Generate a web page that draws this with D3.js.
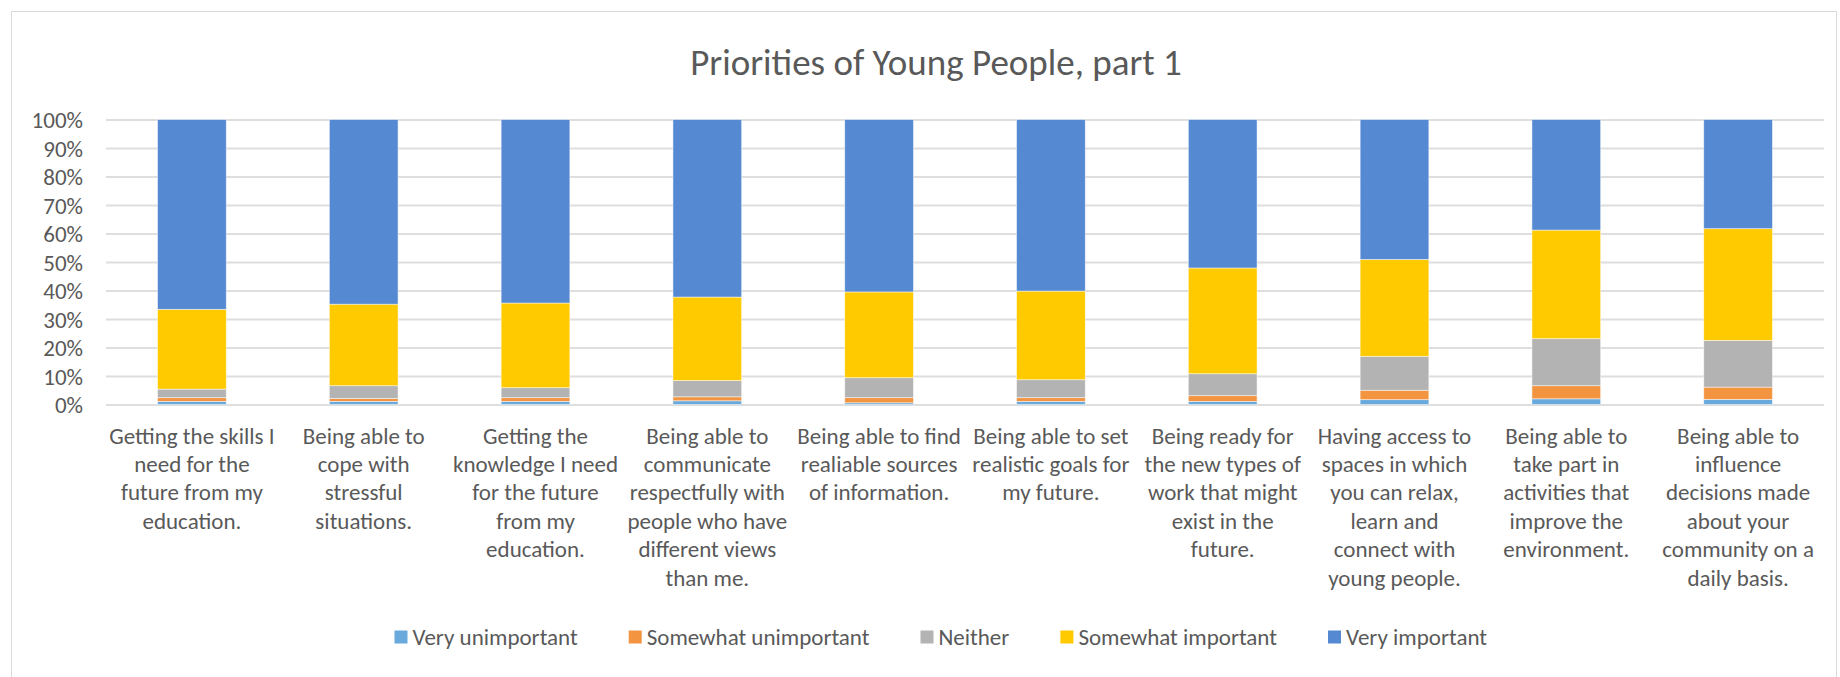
<!DOCTYPE html>
<html>
<head>
<meta charset="utf-8">
<script src="https://cdn.jsdelivr.net/npm/d3@7"></script>
<style>
  html, body { margin: 0; padding: 0; background: #fff; }
  svg { display: block; }
  text { font-family: Carlito, Calibri, Lato, sans-serif; fill: #595959; }
</style>
</head>
<body>
<svg id="chart" width="1840" height="677"></svg>
<script>
// Survey categories (line breaks mark how each axis label wraps)
const categories = [
  "Getting the skills I\nneed for the\nfuture from my\neducation.",
  "Being able to\ncope with\nstressful\nsituations.",
  "Getting the\nknowledge I need\nfor the future\nfrom my\neducation.",
  "Being able to\ncommunicate\nrespectfully with\npeople who have\ndifferent views\nthan me.",
  "Being able to find\nrealiable sources\nof information.",
  "Being able to set\nrealistic goals for\nmy future.",
  "Being ready for\nthe new types of\nwork that might\nexist in the\nfuture.",
  "Having access to\nspaces in which\nyou can relax,\nlearn and\nconnect with\nyoung people.",
  "Being able to\ntake part in\nactivities that\nimprove the\nenvironment.",
  "Being able to\ninfluence\ndecisions made\nabout your\ncommunity on a\ndaily basis."
];

// Share of responses (%) per answer
const seriesNames = ["Very unimportant", "Somewhat unimportant", "Neither", "Somewhat important", "Very important"];
const veryUnimportant     = [1.1, 1.1, 1.1, 1.3, 0.6, 1.1, 1.1, 1.7, 2.0, 1.8];
const somewhatUnimportant = [1.3, 1.0, 1.3, 1.4, 1.8, 1.3, 2.0, 3.3, 4.6, 4.3];
const neither             = [3.0, 4.5, 3.5, 5.7, 7.0, 6.3, 7.7, 11.9, 16.5, 16.4];
const somewhatImportant   = [28.0, 28.6, 29.7, 29.3, 30.1, 31.1, 37.1, 34.0, 38.1, 39.2];
const veryImportant       = [66.6, 64.8, 64.4, 62.3, 60.5, 60.2, 52.1, 49.1, 38.8, 38.3];

const yTicks = [0, 0.1, 0.2, 0.3, 0.4, 0.5, 0.6, 0.7, 0.8, 0.9, 1.0];
const colors = ["#69A9DB", "#F39440", "#B3B3B3", "#FFCA00", "#5589D1"];
const title = "Priorities of Young People, part 1";

const seriesValues = [veryUnimportant, somewhatUnimportant, neither, somewhatImportant, veryImportant];
const rows = categories.map((c, i) => {
  const r = { category: c };
  seriesNames.forEach((s, k) => { r[s] = seriesValues[k][i]; });
  return r;
});

const svg = d3.select("#chart");
const FONT = 23;

// chart area border (runs past the bottom edge)
svg.append("rect")
  .attr("x", 11.5).attr("y", 11.5)
  .attr("width", 1825).attr("height", 700)
  .attr("fill", "none").attr("stroke", "#d9d9d9").attr("stroke-width", 1);

const plot = { left: 106, right: 1824, top: 119.5, bottom: 404.5 };

const x = d3.scaleBand()
  .domain(categories)
  .range([plot.left, plot.right])
  .paddingInner(0.6)
  .paddingOuter(0.3);

const y = d3.scaleLinear().domain([0, 1]).range([plot.bottom, plot.top]);

// title
svg.append("text")
  .attr("x", 936).attr("y", 75)
  .attr("text-anchor", "middle")
  .style("font-size", "37px")
  .text(title);

// gridlines and percentage labels
const yAxis = d3.axisLeft(y)
  .tickValues(yTicks)
  .tickFormat(d3.format(".0%"))
  .tickSize(-(plot.right - plot.left))
  .tickPadding(23);

const gy = svg.append("g")
  .attr("transform", `translate(${plot.left},0)`)
  .call(yAxis);
gy.select(".domain").remove();
gy.selectAll(".tick line").attr("stroke", "#dedede").attr("stroke-width", 2);
gy.selectAll(".tick text")
  .style("font-size", FONT + "px")
  .attr("fill", "#595959")
  .attr("dy", "0.35em");

// stacked bars
const stack = d3.stack().keys(seriesNames).offset(d3.stackOffsetExpand);
const layers = stack(rows);

svg.append("g")
  .selectAll("g")
  .data(layers)
  .join("g")
  .attr("fill", (d, i) => colors[i])
  .selectAll("rect")
  .data(d => d)
  .join("rect")
  .attr("x", d => x(d.data.category))
  .attr("width", x.bandwidth())
  .attr("y", d => y(d[1]))
  .attr("height", d => y(d[0]) - y(d[1]))
  .attr("stroke", "rgba(255,255,255,0.6)")
  .attr("stroke-width", 0.8);

// category labels
const xAxis = d3.axisBottom(x).tickSize(0).tickFormat("");
const gx = svg.append("g")
  .attr("transform", `translate(0,${plot.bottom})`)
  .call(xAxis);
gx.select(".domain").remove();
gx.selectAll(".tick").each(function(d) {
  const t = d3.select(this).append("text")
    .attr("text-anchor", "middle")
    .style("font-size", FONT + "px")
    .attr("y", 39);
  d.split("\n").forEach((line, i) => {
    t.append("tspan").attr("x", 0).attr("dy", i === 0 ? 0 : 28.4).text(line);
  });
});

// legend: entries spread across a fixed span
const legendLeft = 394.5, legendRight = 1487;
const legend = svg.append("g").attr("transform", "translate(0,637)");
const items = legend.selectAll("g")
  .data(seriesNames)
  .join("g");
items.append("rect")
  .attr("width", 13).attr("height", 13)
  .attr("y", -6.5)
  .attr("fill", (d, i) => colors[i]);
items.append("text")
  .attr("x", 18)
  .attr("dy", "0.35em")
  .style("font-size", FONT + "px")
  .text(d => d);

const widths = [];
items.each(function() {
  widths.push(18 + d3.select(this).select("text").node().getComputedTextLength());
});
const gap = (legendRight - legendLeft - d3.sum(widths)) / (widths.length - 1);
let cursor = legendLeft;
items.each(function(d, i) {
  d3.select(this).attr("transform", `translate(${cursor},0)`);
  cursor += widths[i] + gap;
});
</script>
</body>
</html>
